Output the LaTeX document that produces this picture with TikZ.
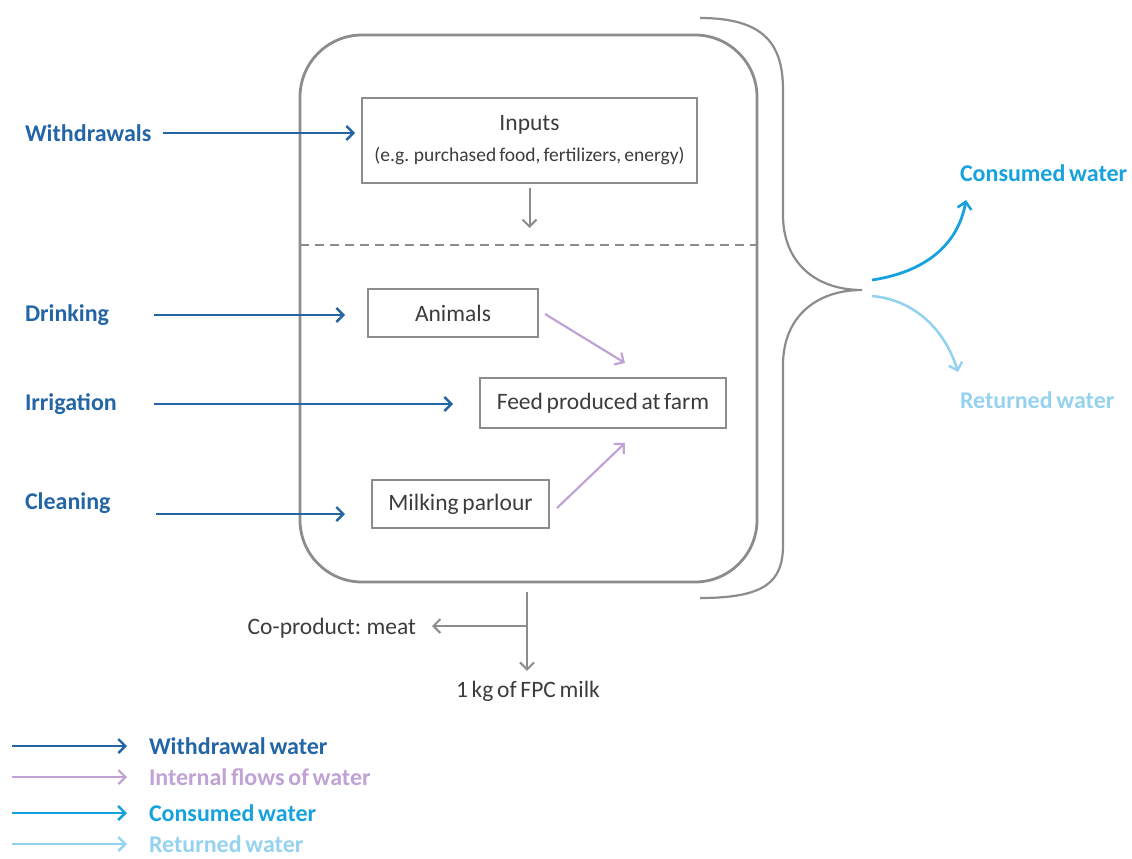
\documentclass[tikz,border=0pt]{standalone}
\usepackage{fontspec}
\setmainfont{Carlito}[WordSpace=0.7]
\usetikzlibrary{arrows.meta}
\definecolor{wblue}{HTML}{2465A6}
\definecolor{cblue}{HTML}{17A2DE}
\definecolor{rblue}{HTML}{95D2F0}
\definecolor{ipurple}{HTML}{C0A3D4}
\definecolor{boxgrey}{HTML}{8C8C8C}
\definecolor{txtgrey}{HTML}{3C3C3C}
\tikzset{
  every node/.style={inner sep=0pt, outer sep=0pt},
  stagebox/.style={draw=boxgrey, line width=2.8pt, text=txtgrey,
    font=\fontsize{23.5}{27}\selectfont, align=center},
  sidelabel/.style={anchor=west, text=wblue, font=\bfseries\fontsize{24}{28}\selectfont},
  legendtext/.style={anchor=west, font=\bfseries\fontsize{24}{28}\selectfont},
  plaintext/.style={text=txtgrey, font=\fontsize{23.5}{27}\selectfont},
  wflow/.style={draw=wblue, line width=2.4pt, -{Straight Barb[length=7pt,width=14pt,line width=2.4pt]}},
  iflow/.style={draw=ipurple, line width=2.2pt, -{Straight Barb[length=7pt,width=14pt,line width=2.2pt]}},
  cflow/.style={draw=cblue, line width=2.8pt, -{Straight Barb[length=7pt,width=14pt,line width=2.6pt]}},
  rflow/.style={draw=rblue, line width=2.6pt, -{Straight Barb[length=7pt,width=14pt,line width=2.4pt]}},
  gflow/.style={draw=boxgrey, line width=2pt, -{Straight Barb[length=7pt,width=14pt,line width=2pt]}},
}
\begin{document}
\begin{tikzpicture}[x=1pt,y=-1pt]
\useasboundingbox (0,0) rectangle (1132,859);

% farm boundary and its split into purchased inputs / on-farm activities
\node[draw=boxgrey, line width=2.8pt, rounded corners=62pt,
      minimum width=457pt, minimum height=547pt] (farm) at (528.5,308.5) {};
\draw[boxgrey, line width=2.2pt, dash pattern=on 9pt off 6pt]
  (farm.west |- 0,245) -- (farm.east |- 0,245);

% boxes inside the farm
\node[stagebox, minimum width=335pt, minimum height=85pt] (inputs) at (529.5,140.5)
  {Inputs\\[4pt]{\fontsize{19.5}{23}\selectfont (e.g. purchased food, fertilizers, energy)}};
\node[stagebox, minimum width=170pt, minimum height=48pt] (animals) at (453,313) {Animals};
\node[stagebox, minimum width=246pt, minimum height=50pt] (feed) at (603,403) {Feed produced at farm};
\node[stagebox, minimum width=177pt, minimum height=48pt] (milking) at (460.5,504) {Milking parlour};

\draw[gflow] (inputs.south) ++(0,5) coordinate (indown) -- ++(0,40) coordinate (inend);

% internal flows
\coordinate (feedtop) at (625,363);
\coordinate (feedbot) at (625,443);
\draw[iflow] ([xshift=7pt,yshift=-1pt]animals.east) -- (feedtop);
\draw[iflow] ([xshift=8pt,yshift=-4pt]milking.east) -- (feedbot);

% water withdrawals
\node[sidelabel] (wlab) at (25,133) {Withdrawals};
\node[sidelabel] (dlab) at (25,315) {Drinking};
\node[sidelabel] (ilab) at (25,404) {Irrigation};
\node[sidelabel] (clab) at (25,503) {Cleaning};

\draw[wflow] ([xshift=12pt]wlab.east) -- ([xshift=-7pt]wlab.east -| inputs.west);
\draw[wflow] ([xshift=45pt]dlab.east) -- ([xshift=-23pt]dlab.east -| animals.west);
\draw[wflow] ([xshift=37pt]ilab.east) -- ([xshift=-27pt]ilab.east -| feed.west);
\draw[wflow] ([xshift=45pt,yshift=-11pt]clab.east) -- ([xshift=-27pt,yshift=-11pt]clab.east -| milking.west);

% brace gathering the farm water
\coordinate (tip) at (862,290);
\draw[boxgrey, line width=2.2pt]
  (700,18) .. controls (765,18) and (783,45) .. (783,90) -- (783,215)
  .. controls (783,262) and (815,290) .. (tip)
  .. controls (815,290) and (783,318) .. (783,365) -- (783,545)
  .. controls (783,582) and (765,598) .. (700,598);

% consumed and returned water
\node[anchor=west, text=cblue, font=\bfseries\fontsize{24}{28}\selectfont] (cons) at (960,173) {Consumed water};
\node[anchor=west, text=rblue, font=\bfseries\fontsize{24}{28}\selectfont] (ret) at (960,400) {Returned water};
\draw[cflow] (872,280) .. controls (925,272) and (958,245) .. (966,200);
\draw[rflow] (872,296) .. controls (915,300) and (945,330) .. (958,372);

% farm outputs
\coordinate (outtop) at (527,592);
\coordinate (split) at (527,626);
\node[plaintext, anchor=east] (meat) at (416,628) {Co-product: meat};
\node[plaintext] (milk) at (528,691) {1 kg of FPC milk};
\draw[gflow] (outtop) -- ([yshift=10pt]milk.north -| outtop);
\draw[gflow] (split) -- ([xshift=16pt]meat.east |- split);

% legend
\foreach \yy/\sty/\col/\txt/\nm in {746/wflow/wblue/Withdrawal water/lw,
    777/iflow/ipurple/Internal flows of water/li,
    813/cflow/cblue/Consumed water/lc,
    844/rflow/rblue/Returned water/lr}{
  \node[legendtext, text=\col] (\nm) at (149,\yy) {\txt};
  \coordinate (\nm s) at (12,\yy);
  \draw[\sty] (\nm s) -- ([xshift=-22pt]\nm.west);
}
\end{tikzpicture}
\end{document}
